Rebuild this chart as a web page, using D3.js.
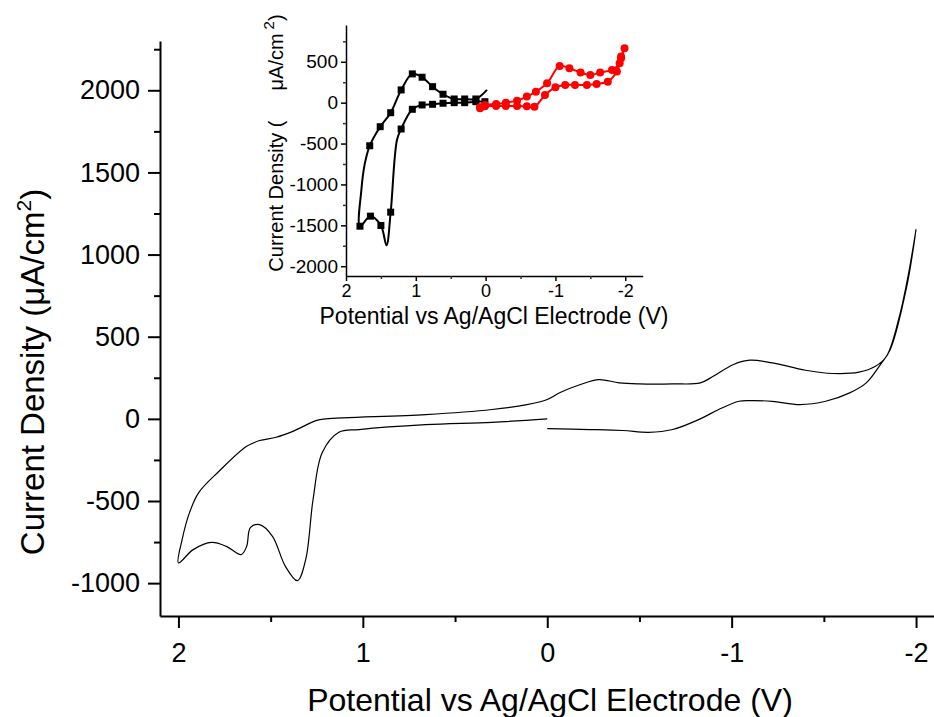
<!DOCTYPE html>
<html lang="en">
  <head>
    <meta charset="utf-8">
    <title>Cyclic Voltammogram</title>
    <style>
      body { margin: 0; background: #fff; }
      svg { display: block; font-family: "Liberation Sans", Arial, sans-serif; }
      .axis path, .axis line { stroke: #000; }
    </style>
  </head>
  <body>
    <script src="https://d3js.org/d3.v7.min.js"></script>
    <script>
      // main scan: potential (V) and current density (uA/cm2), in scan order
      const mainV = [0.00, -0.23, -0.41, -0.55, -0.68, -0.83, -0.93, -1.04, -1.10, -1.22, -1.37, -1.51, -1.64, -1.73, -1.80, -1.86, -1.95, -2.00,
        -1.96, -1.91, -1.84, -1.78, -1.69, -1.55, -1.40, -1.22, -1.10, -1.01, -0.90, -0.83, -0.68, -0.50, -0.39, -0.28, -0.18, -0.07, 0.00,
        0.11, 0.30, 0.66, 1.20, 1.25, 1.38, 1.47, 1.56, 1.63, 1.78, 1.89, 1.94, 1.98, 2.00,
        1.92, 1.82, 1.74, 1.66, 1.63, 1.61, 1.56, 1.49, 1.42, 1.355, 1.31, 1.27, 1.22, 1.13, 1.02, 0.66, 0.30, 0.00];
      const mainI = [-60, -65, -71, -82, -65, 0, 57, 107, 111, 107, 87, 107, 158, 219, 320, 422, 808, 1153,
        889, 625, 381, 320, 284, 276, 296, 341, 357, 331, 259, 219, 213, 213, 219, 239, 209, 160, 118,
        87, 57, 26, 0, -9, -76, -112, -132, -167, -319, -449, -571, -735, -877,
        -796, -752, -776, -826, -776, -662, -644, -715, -898, -985, -857, -491, -205, -82, -65, -35, -21, 0];

      // inset, black trace (squares)
      const insetBlackV = [-0.02, 0.14, 0.30, 0.45, 0.61, 0.76, 0.91, 1.05, 1.21, 1.36, 1.51, 1.66, 1.73, 1.78, 1.80,
        1.65, 1.50, 1.42, 1.36, 1.27, 1.21, 1.05, 0.91, 0.76, 0.61, 0.45, 0.30, 0.14, 0.01];
      const insetBlackI = [156, 45, 45, 45, 103, 196, 311, 352, 156, -123, -294, -527, -743, -1070, -1511,
        -1388, -1502, -1744, -1339, -457, -322, -81, -28, -20, -7, 0, 0, 12, 12];
      const insetBlackMarked = [1, 2, 3, 4, 5, 6, 7, 8, 9, 10, 11, 14, 15, 16, 18, 20, 21, 22, 23, 24, 25, 26, 27, 28];

      // inset, red trace (circles)
      const insetRedV = [0.08, 0.01, -0.15, -0.29, -0.45, -0.59, -0.70, -0.85, -1.00, -1.14, -1.28, -1.45, -1.59, -1.75, -1.88, -1.94, -1.99,
        -1.94, -1.92, -1.81, -1.64, -1.50, -1.36, -1.20, -1.06, -0.88, -0.72, -0.59, -0.45, -0.29, -0.15, 0.01, 0.08];
      const insetRedI = [-69, -45, -40, -40, -40, -45, -49, 94, 189, 217, 217, 217, 229, 257, 380, 544, 666,
        564, 483, 401, 368, 339, 368, 421, 450, 237, 135, 74, 25, 0, -16, -28, -57];

      const mainXTicks = [2, 1, 0, -1, -2];
      const mainXMinor = [1.5, 0.5, -0.5, -1.5];
      const mainYTicks = [-1000, -500, 0, 500, 1000, 1500, 2000];
      const mainYMinor = [-750, -250, 250, 750, 1250, 1750, 2250];
      const insetXTicks = [2, 1, 0, -1, -2];
      const insetXMinor = [1.5, 0.5, -0.5, -1.5];
      const insetYTicks = [-2000, -1500, -1000, -500, 0, 500];
      const insetYMinor = [-1750, -1250, -750, -250, 250, 750];

      const w = 934;
      const h = 717;
      // plain hyphen minus, as in the original figure
      const fmt = d => String(d);

      const svg = d3.select("body").append("svg")
        .attr("width", w)
        .attr("height", h);

      // ---- main chart ----
      const x = d3.scaleLinear().domain([2.1, -2.1]).range([160, 934.5]);
      const y = d3.scaleLinear().domain([-1200, 2300]).range([616, 41]);

      const mainLine = d3.line()
        .x((d, i) => x(mainV[i]))
        .y((d, i) => y(mainI[i]))
        .curve(d3.curveCatmullRom.alpha(0.5));

      svg.append("path")
        .datum(mainV)
        .attr("d", mainLine)
        .attr("fill", "none")
        .attr("stroke", "#000")
        .attr("stroke-width", 1.2);

      const xAxis = svg.append("g")
        .attr("class", "axis")
        .attr("transform", "translate(0,616)")
        .call(d3.axisBottom(x).tickValues(mainXTicks).tickSize(12).tickSizeOuter(0).tickPadding(15).tickFormat(fmt));
      xAxis.selectAll("path, line").attr("stroke-width", 2);
      xAxis.selectAll("text").attr("font-size", 27).attr("fill", "#000").style("font-family", "inherit");

      svg.append("g")
        .attr("class", "axis")
        .attr("transform", "translate(0,616)")
        .call(d3.axisBottom(x).tickValues(mainXMinor).tickSize(6).tickFormat(""))
        .call(g => g.select(".domain").remove())
        .selectAll("line").attr("stroke-width", 2);

      const yAxis = svg.append("g")
        .attr("class", "axis")
        .attr("transform", "translate(160,0)")
        .call(d3.axisLeft(y).tickValues(mainYTicks).tickSize(12).tickSizeOuter(0).tickPadding(8).tickFormat(fmt));
      yAxis.selectAll("path, line").attr("stroke-width", 2);
      yAxis.selectAll("text").attr("font-size", 27).attr("fill", "#000").style("font-family", "inherit");

      svg.append("g")
        .attr("class", "axis")
        .attr("transform", "translate(160,0)")
        .call(d3.axisLeft(y).tickValues(mainYMinor).tickSize(6).tickFormat(""))
        .call(g => g.select(".domain").remove())
        .selectAll("line").attr("stroke-width", 2);

      svg.append("text")
        .attr("x", 550)
        .attr("y", 711)
        .attr("text-anchor", "middle")
        .attr("font-size", 32)
        .text("Potential vs Ag/AgCl Electrode (V)");

      const yTitle = svg.append("text")
        .attr("transform", "translate(44,372) rotate(-90)")
        .attr("text-anchor", "middle")
        .attr("font-size", 33);
      yTitle.append("tspan").text("Current Density (\u03bcA/cm");
      yTitle.append("tspan").attr("dy", -13).attr("font-size", 21).text("2");
      yTitle.append("tspan").attr("dy", 13).text(")");

      // ---- inset ----
      const ix = d3.scaleLinear().domain([2, -2.25]).range([346, 642.7]);
      const iy = d3.scaleLinear().domain([-2120, 950]).range([276, 25]);

      const insetLine = (vs, is) => d3.line()
        .x((d, i) => ix(vs[i]))
        .y((d, i) => iy(is[i]))
        .curve(d3.curveCatmullRom.alpha(0.5));

      svg.append("path")
        .datum(insetBlackV)
        .attr("d", insetLine(insetBlackV, insetBlackI))
        .attr("fill", "none")
        .attr("stroke", "#000")
        .attr("stroke-width", 2);

      svg.selectAll(".sq")
        .data(insetBlackMarked)
        .enter()
        .append("rect")
        .attr("class", "sq")
        .attr("x", d => ix(insetBlackV[d]) - 3.5)
        .attr("y", d => iy(insetBlackI[d]) - 3.5)
        .attr("width", 7)
        .attr("height", 7)
        .attr("fill", "#000");

      svg.append("path")
        .datum(insetRedV)
        .attr("d", insetLine(insetRedV, insetRedI))
        .attr("fill", "none")
        .attr("stroke", "#ff0000")
        .attr("stroke-width", 2);

      svg.selectAll(".dot")
        .data(insetRedV)
        .enter()
        .append("circle")
        .attr("class", "dot")
        .attr("cx", d => ix(d))
        .attr("cy", (d, i) => iy(insetRedI[i]))
        .attr("r", 4)
        .attr("fill", "#ff0000");

      const ixAxis = svg.append("g")
        .attr("class", "axis")
        .attr("transform", "translate(0,276)")
        .call(d3.axisBottom(ix).tickValues(insetXTicks).tickSize(5).tickSizeOuter(0).tickPadding(3).tickFormat(fmt));
      ixAxis.selectAll("path, line").attr("stroke", "#333").attr("stroke-width", 1.5);
      ixAxis.selectAll("text").attr("font-size", 18).attr("fill", "#000").style("font-family", "inherit");

      svg.append("g")
        .attr("transform", "translate(0,276)")
        .call(d3.axisBottom(ix).tickValues(insetXMinor).tickSize(3).tickFormat(""))
        .call(g => g.select(".domain").remove())
        .selectAll("line").attr("stroke", "#333").attr("stroke-width", 1.5);

      const iyAxis = svg.append("g")
        .attr("class", "axis")
        .attr("transform", "translate(346,0)")
        .call(d3.axisLeft(iy).tickValues(insetYTicks).tickSize(5).tickSizeOuter(0).tickPadding(3).tickFormat(fmt));
      iyAxis.selectAll("path, line").attr("stroke", "#333").attr("stroke-width", 1.5);
      iyAxis.selectAll("text").attr("font-size", 19).attr("fill", "#000").style("font-family", "inherit");

      svg.append("g")
        .attr("transform", "translate(346,0)")
        .call(d3.axisLeft(iy).tickValues(insetYMinor).tickSize(3).tickFormat(""))
        .call(g => g.select(".domain").remove())
        .selectAll("line").attr("stroke", "#333").attr("stroke-width", 1.5);

      svg.append("text")
        .attr("x", 494)
        .attr("y", 324)
        .attr("text-anchor", "middle")
        .attr("font-size", 23)
        .text("Potential vs Ag/AgCl Electrode (V)");

      const iyTitle = svg.append("text")
        .attr("transform", "translate(283,143) rotate(-90)")
        .attr("text-anchor", "middle")
        .attr("font-size", 20);
      iyTitle.append("tspan").text("Current Density (");
      iyTitle.append("tspan").attr("dx", 30).text("\u03bcA/cm");
      iyTitle.append("tspan").attr("dx", 4).attr("dy", -9).attr("font-size", 15).text("2");
      iyTitle.append("tspan").attr("dy", 9).text(")");
    </script>
  </body>
</html>
